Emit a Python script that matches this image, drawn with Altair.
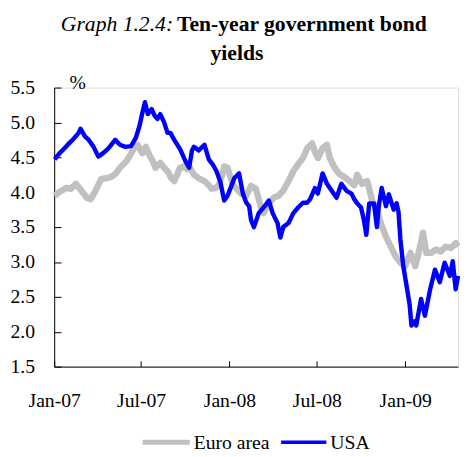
import altair as alt
import pandas as pd

series_names = ["Euro area", "USA"]
series_colors = ["#c0c0c0", "#0000ff"]

euro_dates = [
    "2007-01-02", "2007-01-11", "2007-01-26", "2007-02-05", "2007-02-15", "2007-02-27",
    "2007-03-10", "2007-03-18", "2007-03-28", "2007-04-09", "2007-04-20", "2007-04-30",
    "2007-05-08", "2007-05-18", "2007-05-31", "2007-06-10", "2007-06-16", "2007-06-24",
    "2007-06-30", "2007-07-04", "2007-07-11", "2007-07-19", "2007-07-25", "2007-07-31",
    "2007-08-10", "2007-08-18", "2007-08-25", "2007-09-02", "2007-09-08", "2007-09-14",
    "2007-09-20", "2007-09-28", "2007-10-05", "2007-10-11", "2007-10-19", "2007-10-29",
    "2007-11-10", "2007-11-19", "2007-11-25", "2007-12-03", "2007-12-09", "2007-12-17",
    "2007-12-21", "2007-12-28", "2008-01-01", "2008-01-09", "2008-01-15", "2008-01-25",
    "2008-02-05", "2008-02-15", "2008-02-25", "2008-03-06", "2008-03-12", "2008-03-23",
    "2008-04-02", "2008-04-12", "2008-04-22", "2008-05-03", "2008-05-13", "2008-05-23",
    "2008-06-02", "2008-06-11", "2008-06-21", "2008-06-27", "2008-07-03", "2008-07-13",
    "2008-07-22", "2008-07-28", "2008-08-07", "2008-08-17", "2008-08-27", "2008-09-07",
    "2008-09-17", "2008-09-23", "2008-10-03", "2008-10-14", "2008-10-24", "2008-11-03",
    "2008-11-11", "2008-11-22", "2008-12-02", "2008-12-12", "2008-12-22", "2009-01-01",
    "2009-01-12", "2009-01-22", "2009-02-01", "2009-02-07", "2009-02-14", "2009-02-24",
    "2009-03-06", "2009-03-16", "2009-03-26", "2009-04-06", "2009-04-16", "2009-04-21",
]
euro_values = [
    3.95, 4.00, 4.06, 4.05, 4.12, 4.02,
    3.92, 3.90, 4.02, 4.19, 4.20, 4.22,
    4.26, 4.35, 4.44, 4.55, 4.63, 4.68,
    4.60, 4.56, 4.65, 4.52, 4.45, 4.35,
    4.42, 4.35, 4.30, 4.20, 4.16, 4.25,
    4.35, 4.37, 4.33, 4.35, 4.25, 4.20,
    4.16, 4.10, 4.05, 4.06, 4.09, 4.25,
    4.37, 4.35, 4.26, 4.10, 4.06, 3.98,
    3.95, 4.09, 4.05, 3.80, 3.70, 3.84,
    3.92, 3.95, 4.02, 4.16, 4.30, 4.40,
    4.49, 4.63, 4.70, 4.58, 4.49, 4.63,
    4.68, 4.49, 4.35, 4.26, 4.22, 4.16,
    4.10, 4.25, 4.12, 4.16, 3.88, 3.74,
    3.56, 3.36, 3.22, 3.08, 2.99, 2.94,
    3.13, 2.94, 3.22, 3.42, 3.13, 3.13,
    3.18, 3.15, 3.22, 3.20, 3.27, 3.22,
]

usa_dates = [
    "2007-01-02", "2007-01-11", "2007-01-21", "2007-02-01", "2007-02-11", "2007-02-21",
    "2007-02-25", "2007-03-06", "2007-03-14", "2007-03-24", "2007-04-03", "2007-04-13",
    "2007-04-24", "2007-05-08", "2007-05-18", "2007-05-29", "2007-06-10", "2007-06-20",
    "2007-06-28", "2007-07-04", "2007-07-09", "2007-07-15", "2007-07-23", "2007-07-29",
    "2007-08-04", "2007-08-10", "2007-08-18", "2007-08-25", "2007-08-31", "2007-09-08",
    "2007-09-20", "2007-10-01", "2007-10-09", "2007-10-15", "2007-10-19", "2007-10-29",
    "2007-11-10", "2007-11-19", "2007-11-27", "2007-12-05", "2007-12-13", "2007-12-21",
    "2007-12-28", "2008-01-01", "2008-01-11", "2008-01-21", "2008-01-29", "2008-02-05",
    "2008-02-11", "2008-02-15", "2008-02-21", "2008-03-02", "2008-03-12", "2008-03-23",
    "2008-03-31", "2008-04-10", "2008-04-16", "2008-04-22", "2008-05-03", "2008-05-13",
    "2008-05-23", "2008-06-02", "2008-06-11", "2008-06-17", "2008-06-27", "2008-07-03",
    "2008-07-13", "2008-07-22", "2008-08-01", "2008-08-11", "2008-08-21", "2008-09-01",
    "2008-09-11", "2008-09-17", "2008-09-23", "2008-10-01", "2008-10-07", "2008-10-12",
    "2008-10-18", "2008-10-28", "2008-11-03", "2008-11-07", "2008-11-13", "2008-11-22",
    "2008-11-28", "2008-12-08", "2008-12-14", "2008-12-18", "2008-12-22", "2008-12-28",
    "2009-01-04", "2009-01-10", "2009-01-14", "2009-01-20", "2009-01-24", "2009-02-03",
    "2009-02-11", "2009-02-22", "2009-03-04", "2009-03-14", "2009-03-24", "2009-04-04",
    "2009-04-10", "2009-04-16", "2009-04-21",
]
usa_values = [
    4.47, 4.55, 4.62, 4.70, 4.77, 4.85,
    4.91, 4.80, 4.75, 4.65, 4.51, 4.56,
    4.63, 4.75, 4.68, 4.65, 4.66, 4.78,
    4.96, 5.15, 5.29, 5.12, 5.19, 5.10,
    5.05, 5.12, 5.00, 4.85, 4.85, 4.75,
    4.62, 4.45, 4.35, 4.60, 4.65, 4.60,
    4.68, 4.47, 4.40, 4.30, 4.15, 3.88,
    3.95, 4.02, 4.20, 4.27, 3.98, 3.85,
    3.80, 3.60, 3.50, 3.70, 3.78, 3.88,
    3.70, 3.56, 3.35, 3.50, 3.56, 3.70,
    3.78, 3.85, 3.85, 3.90, 4.06, 3.98,
    4.27, 4.12, 4.02, 3.92, 4.12, 4.02,
    3.98, 3.90, 3.84, 3.78, 3.60, 3.39,
    3.84, 3.84, 3.50, 3.80, 4.06, 3.80,
    3.97, 3.75, 3.84, 3.72, 3.32, 2.94,
    2.65, 2.40, 2.09, 2.15, 2.09, 2.47,
    2.23, 2.61, 2.89, 2.71, 2.99, 2.80,
    3.01, 2.61, 2.80,
]

y_ticks = [1.5, 2.0, 2.5, 3.0, 3.5, 4.0, 4.5, 5.0, 5.5]
x_tick_dates = ["2007-01-01", "2007-07-01", "2008-01-01", "2008-07-01", "2009-01-01"]
x_domain = ["2007-01-01", "2009-04-21"]

title_italic = "Graph 1.2.4:"
title_bold_1 = "Ten-year government bond"
title_bold_2 = "yields"
y_unit = "%"

df = pd.concat([
    pd.DataFrame({"date": euro_dates, "value": euro_values, "series": series_names[0]}),
    pd.DataFrame({"date": usa_dates, "value": usa_values, "series": series_names[1]}),
], ignore_index=True)

FONT = "Liberation Serif"
W, H = 411, 284


def dt(s):
    y, m, d = (int(p) for p in s.split("-"))
    return alt.DateTime(year=y, month=m, date=d, utc=True)


x_scale = alt.Scale(type="utc", domain=[dt(s) for s in x_domain])
y_scale = alt.Scale(domain=[1.5, 5.5], nice=False, zero=False)

lines = alt.Chart(df).mark_line(strokeCap="butt", strokeJoin="round").encode(
    x=alt.X("date:T", scale=x_scale,
            axis=alt.Axis(values=[dt(s) for s in x_tick_dates], format="%b-%y",
                          ticks=False, tickSize=0, labelPadding=25, labelFlush=False,
                          labelFont=FONT, labelFontSize=20, labelColor="#000",
                          domainColor="#000", grid=False, title=None, labelAngle=0)),
    y=alt.Y("value:Q", scale=y_scale,
            axis=alt.Axis(values=y_ticks, format=".1f", ticks=False, tickSize=0,
                          labelPadding=20, labelFont=FONT, labelFontSize=20,
                          labelColor="#000", domainColor="#000", grid=False,
                          title=y_unit, titleAngle=0, titleAlign="left",
                          titleBaseline="alphabetic", titleX=15, titleY=1,
                          titleFont=FONT, titleFontSize=20, titleFontWeight="normal",
                          titleColor="#000")),
    color=alt.Color("series:N",
                    scale=alt.Scale(domain=series_names, range=series_colors),
                    legend=None),
    strokeWidth=alt.StrokeWidth("series:N",
                                scale=alt.Scale(domain=series_names, range=[6.5, 4.5]),
                                legend=None),
)

ticks_layer = alt.Chart(df).mark_point(opacity=0).encode(
    x=alt.X("date:T", scale=x_scale,
            axis=alt.Axis(orient="top", offset=-H, values=[dt(s) for s in x_tick_dates],
                          labels=False, domain=False, ticks=True, tickSize=6,
                          tickColor="#000", grid=False, title=None)),
    y=alt.Y("value:Q", scale=y_scale,
            axis=alt.Axis(orient="right", offset=-W, values=y_ticks, labels=False,
                          domain=False, ticks=True, tickSize=7, tickColor="#000",
                          grid=False, title=None)),
)


def text_layer(txt, x, y, align="left", **kw):
    return alt.Chart(pd.DataFrame({"t": [txt]})).mark_text(
        font=FONT, align=align, baseline="alphabetic", color="#000", **kw
    ).encode(text="t:N", x=alt.value(x), y=alt.value(y))


def legend_swatch(i, x0, x1, y, width):
    return alt.Chart(pd.DataFrame({"s": [series_names[i]]})).mark_rule(
        strokeWidth=width, color=series_colors[i], strokeCap="butt"
    ).encode(x=alt.value(x0), x2=alt.value(x1), y=alt.value(y))


TS = 22
t1 = text_layer(title_italic, 121, -58, align="right", fontSize=TS, fontStyle="italic")
t2 = text_layer(title_bold_1, 125, -58, fontSize=TS, fontWeight="bold")
t3 = text_layer(title_bold_2, 186, -28, align="center", fontSize=TS, fontWeight="bold")

leg1 = legend_swatch(0, 90, 138, 361, 5)
leg1t = text_layer(series_names[0], 142, 368, fontSize=20)
leg2 = legend_swatch(1, 231, 277, 361, 3.5)
leg2t = text_layer(series_names[1], 281, 368, fontSize=20)

chart = alt.layer(lines, ticks_layer, t1, t2, t3, leg1, leg1t, leg2, leg2t).resolve_axis(
    x="independent", y="independent"
).properties(
    width=W, height=H,
    autosize=alt.AutoSizeParams(type="none"),
    padding={"left": 47, "top": 77, "right": 2, "bottom": 88},
).configure_view(stroke=None).configure(background="white", font=FONT)

chart.save("out.html", embed_options={"renderer": "svg", "actions": False})
